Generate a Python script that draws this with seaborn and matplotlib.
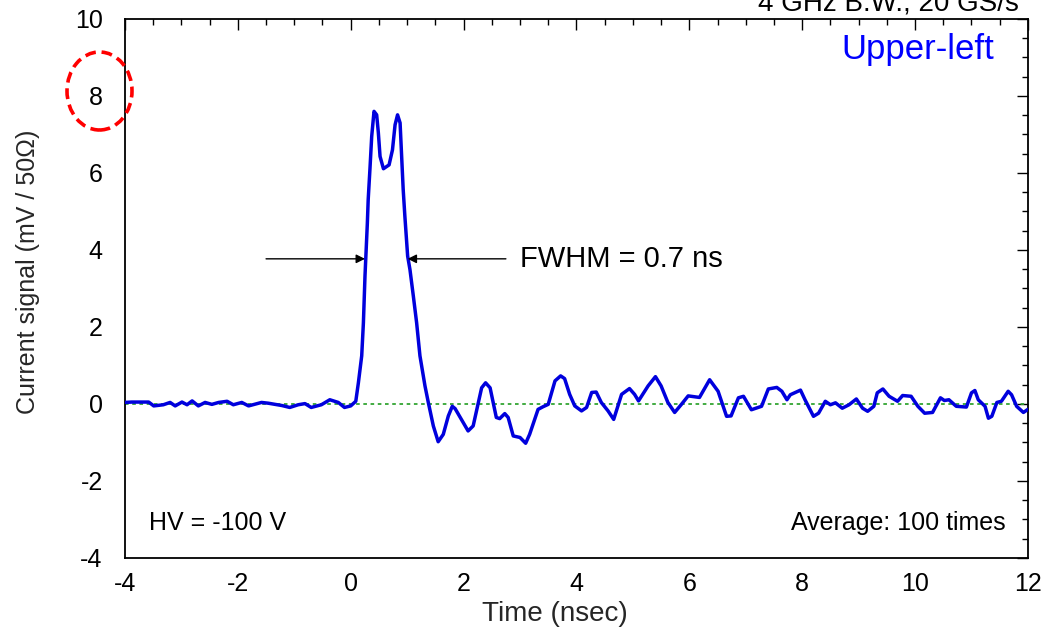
import numpy as np
import pandas as pd
import matplotlib
matplotlib.use("Agg")
import matplotlib.pyplot as plt
from matplotlib.patches import Ellipse
from matplotlib.ticker import MultipleLocator
import seaborn as sns

# DATA
time_ns = [-4.0, -3.88, -3.58, -3.49, -3.32, -3.2, -3.11, -2.99, -2.9, -2.81,
           -2.7, -2.58, -2.46, -2.34, -2.19, -2.08, -1.93, -1.81, -1.58, -1.46,
           -1.22, -1.08, -0.93, -0.81, -0.70, -0.52, -0.37, -0.22, -0.11, 0.0,
           0.09, 0.136, 0.195, 0.225, 0.253, 0.295, 0.31, 0.342, 0.372, 0.413,
           0.46, 0.49, 0.52, 0.58, 0.68, 0.74, 0.786, 0.83, 0.875, 0.903,
           0.93, 0.96, 1.009, 1.05, 1.11, 1.168, 1.227, 1.316, 1.375, 1.464,
           1.55, 1.64, 1.73, 1.80, 1.85, 2.08, 2.17, 2.32, 2.39, 2.47,
           2.58, 2.64, 2.73, 2.79, 2.88, 3.0, 3.10, 3.17, 3.32, 3.41,
           3.50, 3.62, 3.72, 3.79, 3.88, 3.97, 4.09, 4.18, 4.27, 4.35,
           4.44, 4.56, 4.66, 4.80, 4.94, 5.03, 5.10, 5.27, 5.40, 5.50,
           5.62, 5.74, 5.86, 5.98, 6.18, 6.36, 6.51, 6.66, 6.74, 6.87,
           6.96, 7.10, 7.28, 7.40, 7.55, 7.64, 7.73, 7.79, 7.97, 8.05,
           8.20, 8.29, 8.41, 8.50, 8.59, 8.71, 8.83, 8.96, 9.07, 9.16,
           9.27, 9.33, 9.43, 9.54, 9.69, 9.78, 9.93, 10.05, 10.17, 10.31,
           10.45, 10.52, 10.60, 10.73, 10.91, 11.00, 11.06, 11.12, 11.24, 11.30,
           11.36, 11.45, 11.53, 11.65, 11.71, 11.80, 11.92, 12.0]
signal_mv = [0.04, 0.05, 0.05, -0.05, -0.02, 0.04, -0.05, 0.05, -0.02, 0.08,
             -0.05, 0.04, -0.01, 0.04, 0.07, -0.02, 0.04, -0.05, 0.04, 0.02,
             -0.04, -0.09, -0.02, 0.01, -0.09, -0.02, 0.11, 0.04, -0.09, -0.05,
             0.07, 0.55, 1.25, 2.11, 3.32, 4.70, 5.31, 6.13, 6.95, 7.60,
             7.51, 7.04, 6.43, 6.11, 6.21, 6.60, 7.25, 7.51, 7.30, 6.43,
             5.57, 4.87, 3.84, 3.49, 2.80, 2.11, 1.25, 0.47, 0.04, -0.57,
             -0.98, -0.79, -0.31, -0.06, -0.12, -0.70, -0.57, 0.42, 0.55, 0.42,
             -0.35, -0.38, -0.25, -0.35, -0.83, -0.87, -1.02, -0.79, -0.14, -0.07,
             -0.01, 0.60, 0.73, 0.66, 0.25, -0.05, -0.18, -0.09, 0.30, 0.31,
             0.04, -0.18, -0.40, 0.25, 0.40, 0.25, 0.08, 0.47, 0.71, 0.47,
             0.04, -0.22, -0.01, 0.21, 0.17, 0.63, 0.33, -0.32, -0.31, 0.16,
             0.20, -0.15, -0.06, 0.39, 0.43, 0.33, 0.11, 0.24, 0.36, 0.11,
             -0.32, -0.24, 0.07, -0.02, 0.03, -0.11, -0.02, 0.13, -0.11, -0.19,
             -0.06, 0.29, 0.39, 0.20, 0.07, 0.22, 0.20, -0.06, -0.24, -0.22,
             0.16, 0.09, 0.11, -0.06, -0.08, 0.29, 0.35, 0.11, -0.06, -0.37,
             -0.32, 0.04, 0.07, 0.33, 0.24, -0.06, -0.22, -0.14]

x_ticks = [-4, -2, 0, 2, 4, 6, 8, 10, 12]
y_ticks = [-4, -2, 0, 2, 4, 6, 8, 10]

fwhm_level = 3.77
fwhm_left = 0.253
fwhm_right = 1.009

df = pd.DataFrame({"Time": time_ns, "Signal": signal_mv})

# STYLE
sns.set_theme(style="white")
plt.rcParams["font.family"] = ["Liberation Sans", "DejaVu Sans"]
plt.rcParams["text.color"] = "black"
plt.rcParams["axes.unicode_minus"] = False

fig = plt.figure(figsize=(10.44, 6.3), dpi=100)
ax = fig.add_axes([0.1197, 0.1143, 0.8649, 0.8556])

# zero reference line
ax.axhline(0, color="#33a533", lw=1.3, ls=(0, (2.0, 2.0)), zorder=1)

# trace
sns.lineplot(data=df, x="Time", y="Signal", ax=ax, color="#0000dd",
             lw=2.5, estimator=None, sort=False, zorder=3)

ax.set_xlim(-4, 12)
ax.set_ylim(-4, 10)
ax.set_xticks(x_ticks)
ax.set_yticks(y_ticks)
ax.xaxis.set_minor_locator(MultipleLocator(0.5))
ax.yaxis.set_minor_locator(MultipleLocator(0.5))
ax.tick_params(which="both", direction="in", top=True, right=True,
               colors="black", width=1.0, labelsize=18)
ax.tick_params(which="major", length=8)
ax.tick_params(which="minor", length=4.5)
ax.tick_params(axis="x", which="major", pad=10)
ax.tick_params(axis="y", which="major", pad=16)
for s in ax.spines.values():
    s.set_color("black")
    s.set_linewidth(1.3)

ax.set_xlabel("Time (nsec)", fontsize=20)
ax.set_ylabel("Current signal (mV / 50\u03a9)", fontsize=18)
ax.xaxis.set_label_coords(0.476, -0.103)
ax.xaxis.label.set_va("center")
ax.yaxis.set_label_coords(-0.107, 0.531)
ax.yaxis.label.set_va("center")

# FWHM arrows
arrow_kw = dict(arrowstyle="-|>", color="black", lw=1.0, mutation_scale=13,
                shrinkA=0, shrinkB=0)
ax.annotate("", xy=(fwhm_left, fwhm_level), xytext=(-1.5, fwhm_level),
            arrowprops=arrow_kw)
ax.annotate("", xy=(fwhm_right, fwhm_level), xytext=(2.75, fwhm_level),
            arrowprops=arrow_kw)
ax.text(3.0, fwhm_level, "FWHM = 0.7 ns", fontsize=21, ha="left", va="center")

# labels inside the frame
ax.text(0.9624, 0.9425, "Upper-left", color="#0000ff", fontsize=25,
        ha="right", va="center", transform=ax.transAxes)
ax.text(0.0265, 0.065, "HV = -100 V", fontsize=18, ha="left", va="center",
        transform=ax.transAxes)
ax.text(0.9757, 0.065, "Average: 100 times", fontsize=18, ha="right",
        va="center", transform=ax.transAxes)

# header sits partly above the top edge, as in the original screenshot
fig.text(0.976, 0.984, "4 GHz B.W., 20 GS/s", fontsize=20, ha="right",
         va="baseline")

# red dashed highlight around the "8" tick label
ell = Ellipse((99.5 / 1044, 1 - 91 / 630), 65 / 1044, 78 / 630,
              transform=fig.transFigure, fill=False, edgecolor="red",
              lw=2.6, ls=(0, (3.0, 1.6)), clip_on=False, zorder=5)
fig.patches.append(ell)

plt.savefig("out.png", dpi=100)
plt.close()
